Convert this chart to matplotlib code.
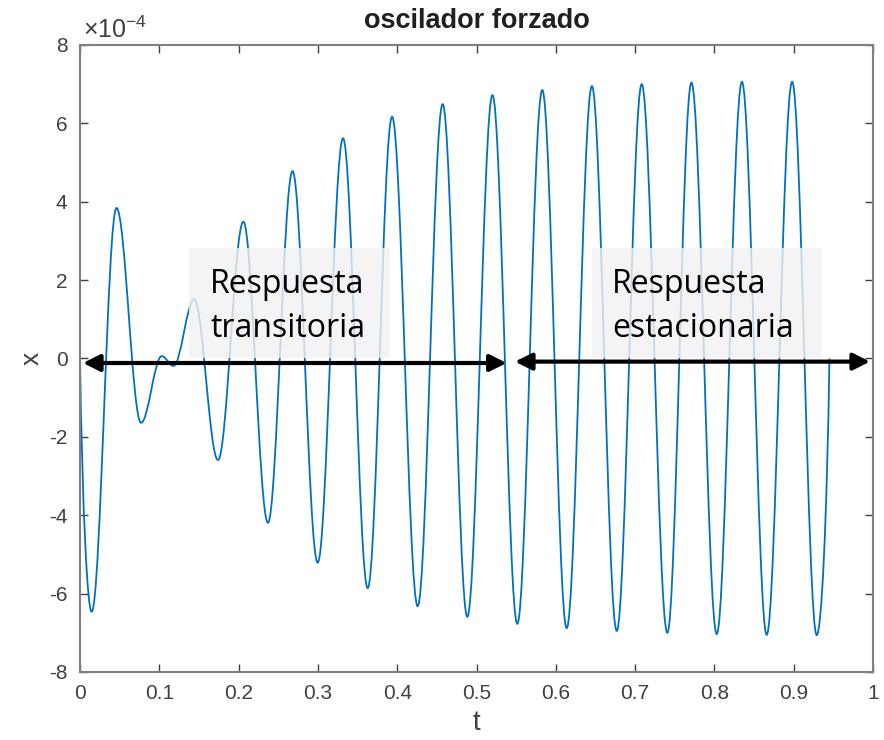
import matplotlib
matplotlib.use('Agg')
import matplotlib.pyplot as plt
from matplotlib.path import Path
from matplotlib.patches import PathPatch, Rectangle

plt.rcParams['font.family'] = ['Liberation Sans', 'DejaVu Sans']
plt.rcParams['axes.unicode_minus'] = False
plt.rcParams['mathtext.fontset'] = 'custom'
plt.rcParams['mathtext.rm'] = 'Liberation Sans'

# turning points of the response (x in units of 1e-4)
t_pts = [0.0, 0.0147, 0.046, 0.077, 0.103, 0.118, 0.144, 0.174, 0.206, 0.237,
         0.268, 0.2997, 0.3317, 0.3628, 0.3935, 0.4258, 0.4573, 0.4884, 0.5201,
         0.5514, 0.5829, 0.6137, 0.6455, 0.6768, 0.7083, 0.7406, 0.7710, 0.8029,
         0.8347, 0.8659, 0.8980, 0.9290, 0.945]
x_pts = [0.0, -6.46, 3.84, -1.64, 0.06, -0.19, 1.51, -2.59, 3.49, -4.19,
         4.78, -5.21, 5.62, -5.86, 6.17, -6.32, 6.49, -6.59, 6.72,
         -6.77, 6.85, -6.88, 6.95, -6.95, 7.00, -7.00, 7.04, -7.03,
         7.06, -7.05, 7.06, -7.06, 0.0]

x_ticks = [0, 0.1, 0.2, 0.3, 0.4, 0.5, 0.6, 0.7, 0.8, 0.9, 1]
x_ticklabels = ['0', '0.1', '0.2', '0.3', '0.4', '0.5', '0.6', '0.7', '0.8', '0.9', '1']
y_ticks = [-8, -6, -4, -2, 0, 2, 4, 6, 8]

fig = plt.figure(figsize=(8.84, 7.40), dpi=100)
ax = fig.add_axes([0.0905, 0.0919, 0.8971, 0.8473])

# smooth curve through the turning points (horizontal tangent at each extremum)
verts = [(t_pts[0], x_pts[0])]
codes = [Path.MOVETO]
n = len(t_pts)
for i in range(n - 1):
    t0, v0 = t_pts[i], x_pts[i]
    t1, v1 = t_pts[i + 1], x_pts[i + 1]
    dt = t1 - t0
    if i == 0:
        c1 = (t0 + 0.2 * dt, v0 + 0.6 * (v1 - v0))
    else:
        c1 = (t0 + 0.36 * dt, v0)
    if i == n - 2:
        c2 = (t1 - 0.2 * dt, v1 - 0.6 * (v1 - v0))
    else:
        c2 = (t1 - 0.36 * dt, v1)
    verts += [c1, c2, (t1, v1)]
    codes += [Path.CURVE4] * 3
ax.add_patch(PathPatch(Path(verts, codes), fill=False, edgecolor='#0072BD',
                       linewidth=1.3, zorder=2))

ax.set_xlim(0, 1)
ax.set_ylim(-8, 8)
ax.set_xticks(x_ticks)
ax.set_xticklabels(x_ticklabels)
ax.set_yticks(y_ticks)
ax.tick_params(direction='in', length=6, width=1, colors='#404040',
               labelsize=15, top=True, right=True, pad=9)
for s in ax.spines.values():
    s.set_color('#808080')
    s.set_linewidth(1.5)

ax.set_title('oscilador forzado', fontsize=19.5, fontweight='bold', pad=12, color='#202020')
ax.set_xlabel('t', fontsize=20, color='#404040', labelpad=5)
ax.set_ylabel('x', fontsize=19, color='#404040', labelpad=4)
ax.text(0.004, 1.011, r'$\times10^{-4}$', transform=ax.transAxes, fontsize=18,
        color='#404040', va='baseline', ha='left')

# annotation boxes and arrows
ax.add_patch(Rectangle((0.137, 0.01), 0.254, 2.81, facecolor='#f2f2f2',
                       edgecolor='none', alpha=0.8, zorder=3))
ax.add_patch(Rectangle((0.646, 0.01), 0.29, 2.81, facecolor='#f2f2f2',
                       edgecolor='none', alpha=0.8, zorder=3))
ax.text(0.164, 0.55, 'Respuesta\ntransitoria', fontsize=23, family='Open Sans',
        va='baseline', ha='left', linespacing=1.42, zorder=4)
ax.text(0.671, 0.55, 'Respuesta\nestacionaria', fontsize=23, family='Open Sans',
        va='baseline', ha='left', linespacing=1.42, zorder=4)

arrow_kw = dict(arrowstyle='<|-|>', color='black', lw=3, mutation_scale=25,
                shrinkA=0, shrinkB=0)
ax.annotate('', xy=(0.538, -0.115), xytext=(0.0038, -0.115), arrowprops=arrow_kw, zorder=5)
ax.annotate('', xy=(0.9962, -0.08), xytext=(0.5485, -0.08), arrowprops=arrow_kw, zorder=5)

fig.savefig('out.png', dpi=100)
